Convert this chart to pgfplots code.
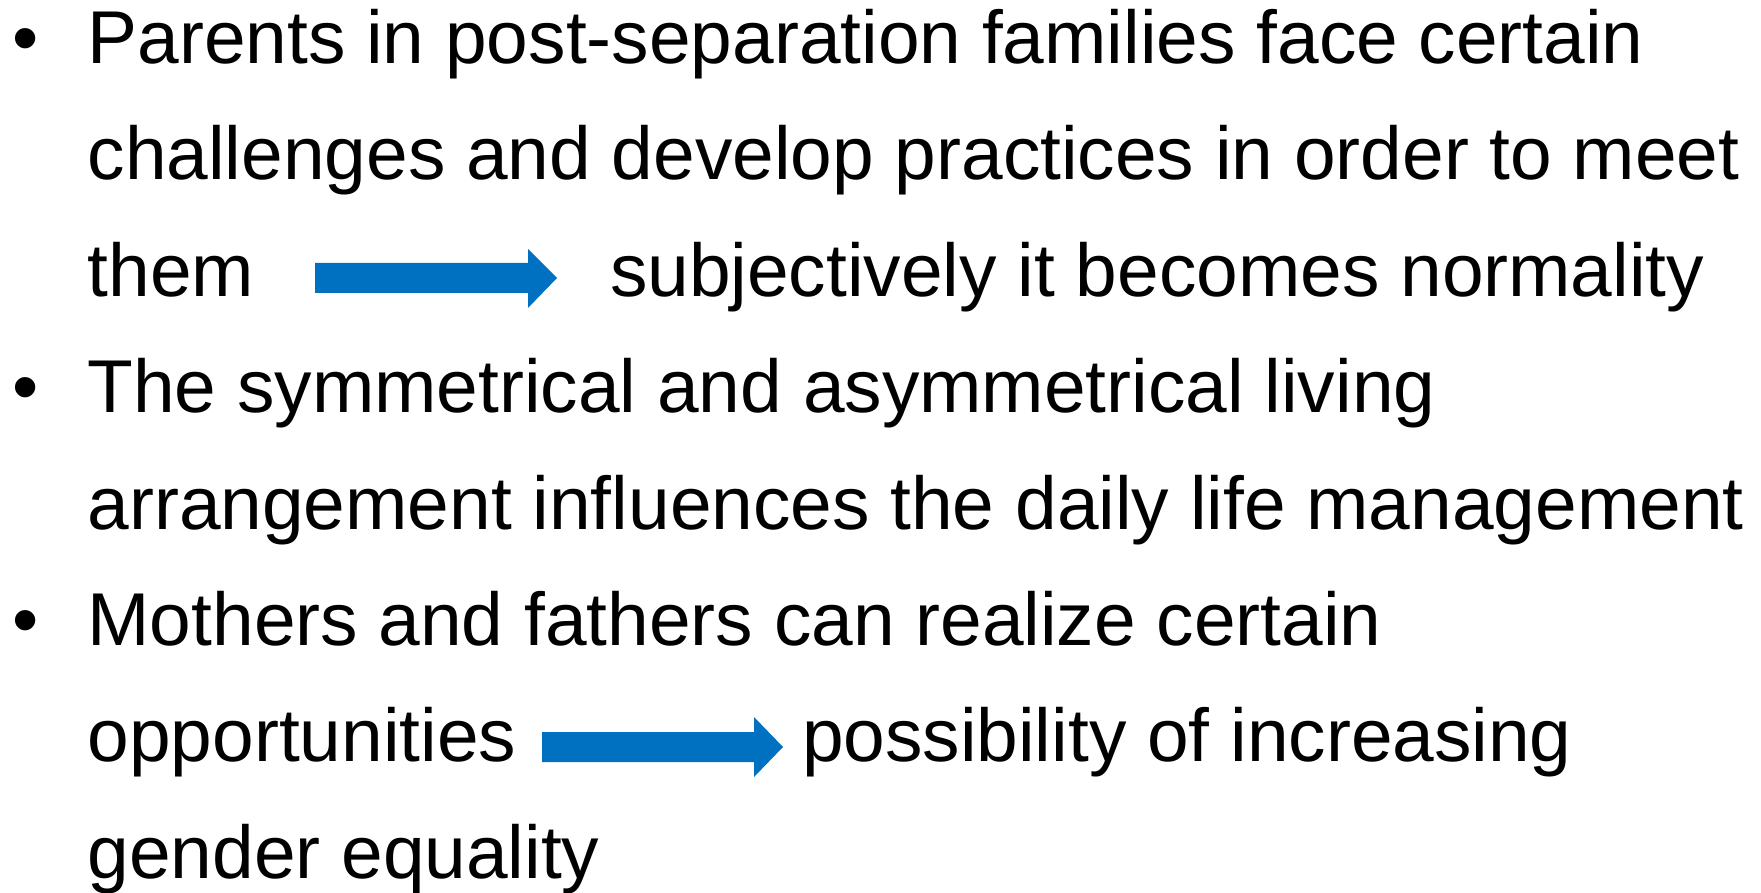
\documentclass[border=0pt]{standalone}
\usepackage{fontspec}
\setmainfont{Liberation Sans}
\usepackage{pgfplots}
\pgfplotsset{compat=1.18}
\definecolor{arrowblue}{HTML}{0070C0}
\begin{document}
\begin{tikzpicture}
\begin{axis}[
  width=17.61cm, height=8.92cm, scale only axis,
  xmin=0, xmax=1761, ymin=0, ymax=892, y dir=reverse,
  hide axis, clip=false,
  nodes={font=\fontsize{21.3pt}{25pt}\selectfont, inner sep=0pt, outer sep=0pt, anchor=base west},
]
% arrows (blue block arrows)
\addplot[fill=arrowblue, draw=none] coordinates {(315,263) (528,263) (528,249) (557,278) (528,308) (528,293) (315,293)} --cycle;
\addplot[fill=arrowblue, draw=none] coordinates {(542,732) (754,732) (754,717) (783,747) (754,777) (754,762) (542,762)} --cycle;
% bullets
\node at (axis cs:13,63.7) {•};
\node at (axis cs:13,412.7) {•};
\node at (axis cs:13,645.3) {•};
% text lines
\node at (axis cs:87.6,63.7) {Parents in post-separation families face certain};
\node at (axis cs:87.6,180) {challenges and develop practices in order to meet};
\node at (axis cs:87.6,296.3) {them};
\node at (axis cs:610,296.3) {subjectively it becomes normality};
\node at (axis cs:87.6,412.7) {The symmetrical and asymmetrical living};
\node at (axis cs:87.6,529) {arrangement influences the daily life management};
\node at (axis cs:87.6,645.3) {Mothers and fathers can realize certain};
\node at (axis cs:87.6,761.6) {opportunities};
\node at (axis cs:802,761.6) {possibility of increasing};
\node at (axis cs:87.6,878) {gender equality};
\end{axis}
\pgfresetboundingbox
\useasboundingbox (0,0) rectangle (17.61cm,8.92cm);
\end{tikzpicture}
\end{document}
